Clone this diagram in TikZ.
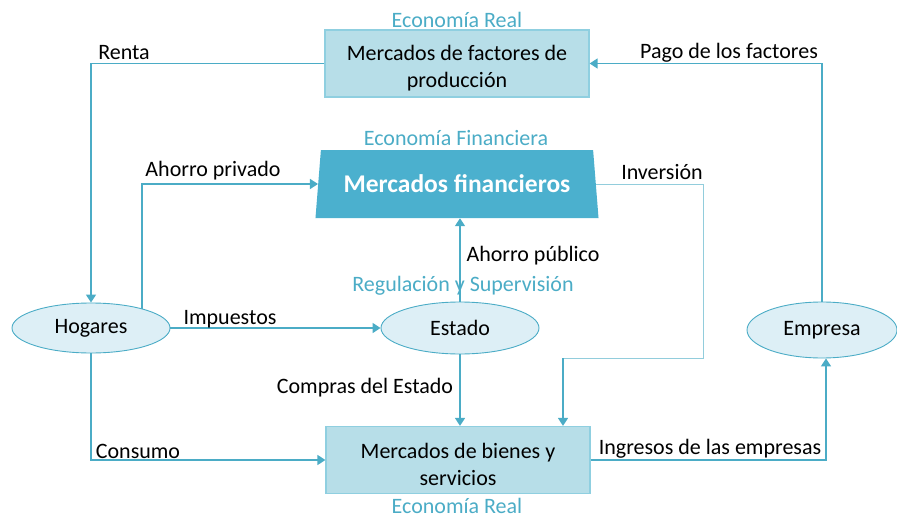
\documentclass[tikz,border=0pt]{standalone}
\usepackage{fontspec}
\setmainfont{Carlito}
\usetikzlibrary{shapes.geometric,arrows.meta,calc}
\definecolor{lnc}{HTML}{4BACC6}
\definecolor{lnlight}{HTML}{92CDDC}
\definecolor{boxfill}{HTML}{B7DEE8}
\definecolor{boxdraw}{HTML}{8FCFE0}
\definecolor{ellfill}{HTML}{DDEFF6}
\definecolor{trapfill}{HTML}{4BB0CE}
\begin{document}
\begin{tikzpicture}[x=1pt,y=-1pt,
  every node/.style={font=\fontsize{22}{27}\selectfont},
  mbox/.style={draw=boxdraw,line width=1.2pt,fill=boxfill,minimum width=264pt,minimum height=67pt,inner sep=0pt},
  boxtxt/.style={align=center,inner sep=0pt},
  ell/.style={ellipse,draw=lnc,line width=0.9pt,fill=ellfill,inner sep=0pt},
  arr/.style={draw=lnc,line width=1.5pt,-{Triangle[length=8pt,width=10pt]}},
  lin/.style={draw=lnlight,line width=1pt},
  lbl/.style={text=black,yshift=-2pt},
  head/.style={text=lnc,yshift=-1.5pt}]
\useasboundingbox (0,0) rectangle (897,519);
% nodes
\node[mbox] (top) at (457,63.5) {};
\node[boxtxt] (toptxt) at (457,68.5) {Mercados de factores de\\producción};
\node[mbox] (bot) at (458,460) {};
\node[boxtxt] (bottxt) at (458,464) {Mercados de bienes y\\servicios};
\node[trapezium,trapezium angle=76,trapezium stretches=true,fill=trapfill,
  minimum width=284pt,minimum height=68pt,inner sep=0pt,text=white,
  font=\fontsize{25.5}{30}\selectfont\bfseries] (fin) at (457,184) {Mercados financieros};
\node[ell,minimum width=158pt,minimum height=50pt] (hog) at (91,328) {Hogares};
\node[ell,minimum width=158pt,minimum height=52pt] (est) at (460,328) {Estado};
\node[ell,minimum width=150pt,minimum height=56pt] (emp) at (822,330) {Empresa};
% headings
\node[head] (h1) at (457,18) {Economía Real};
\node[head] (h2) at (456,137) {Economía Financiera};
\node[head] (h3) at (463,284) {Regulación y Supervisión};
\node[head,yshift=1.5pt] (h4) at (457,506) {Economía Real};
% helper coordinates
\coordinate (hp) at (142,309);
\coordinate (invc) at (703,358);
\coordinate (invd) at (563,358);
% connectors
\draw[arr] (top.west) -| (hog.north);
\draw[arr] (emp.north) |- (top.east);
\draw[arr] (hp) |- (fin);
\draw[lin] (fin.east) -| (invc) -- (invd);
\draw[arr] (invd) -- (invd |- bot.north);
\draw[arr] (est.north) -- (est.north |- fin.south);
\draw[arr] (hog.east) -- (est.west);
\draw[arr] (est.south) -- (est.south |- bot.north);
\draw[arr] (hog.south) |- (bot.west);
\draw[arr] (bot.east) -| ([xshift=4pt]emp.south);
% labels
\node[lbl] (l1) at (124,51) {Renta};
\node[lbl] (l2) at (729,51) {Pago de los factores};
\node[lbl] (l3) at (213,169) {Ahorro privado};
\node[lbl] (l4) at (662,170) {Inversión};
\node[lbl] (l5) at (533,254) {Ahorro público};
\node[lbl] (l6) at (230,317) {Impuestos};
\node[lbl] (l7) at (365,386) {Compras del Estado};
\node[lbl] (l8) at (138,449) {Consumo};
\node[lbl] (l9) at (710,447) {Ingresos de las empresas};
\end{tikzpicture}
\end{document}
